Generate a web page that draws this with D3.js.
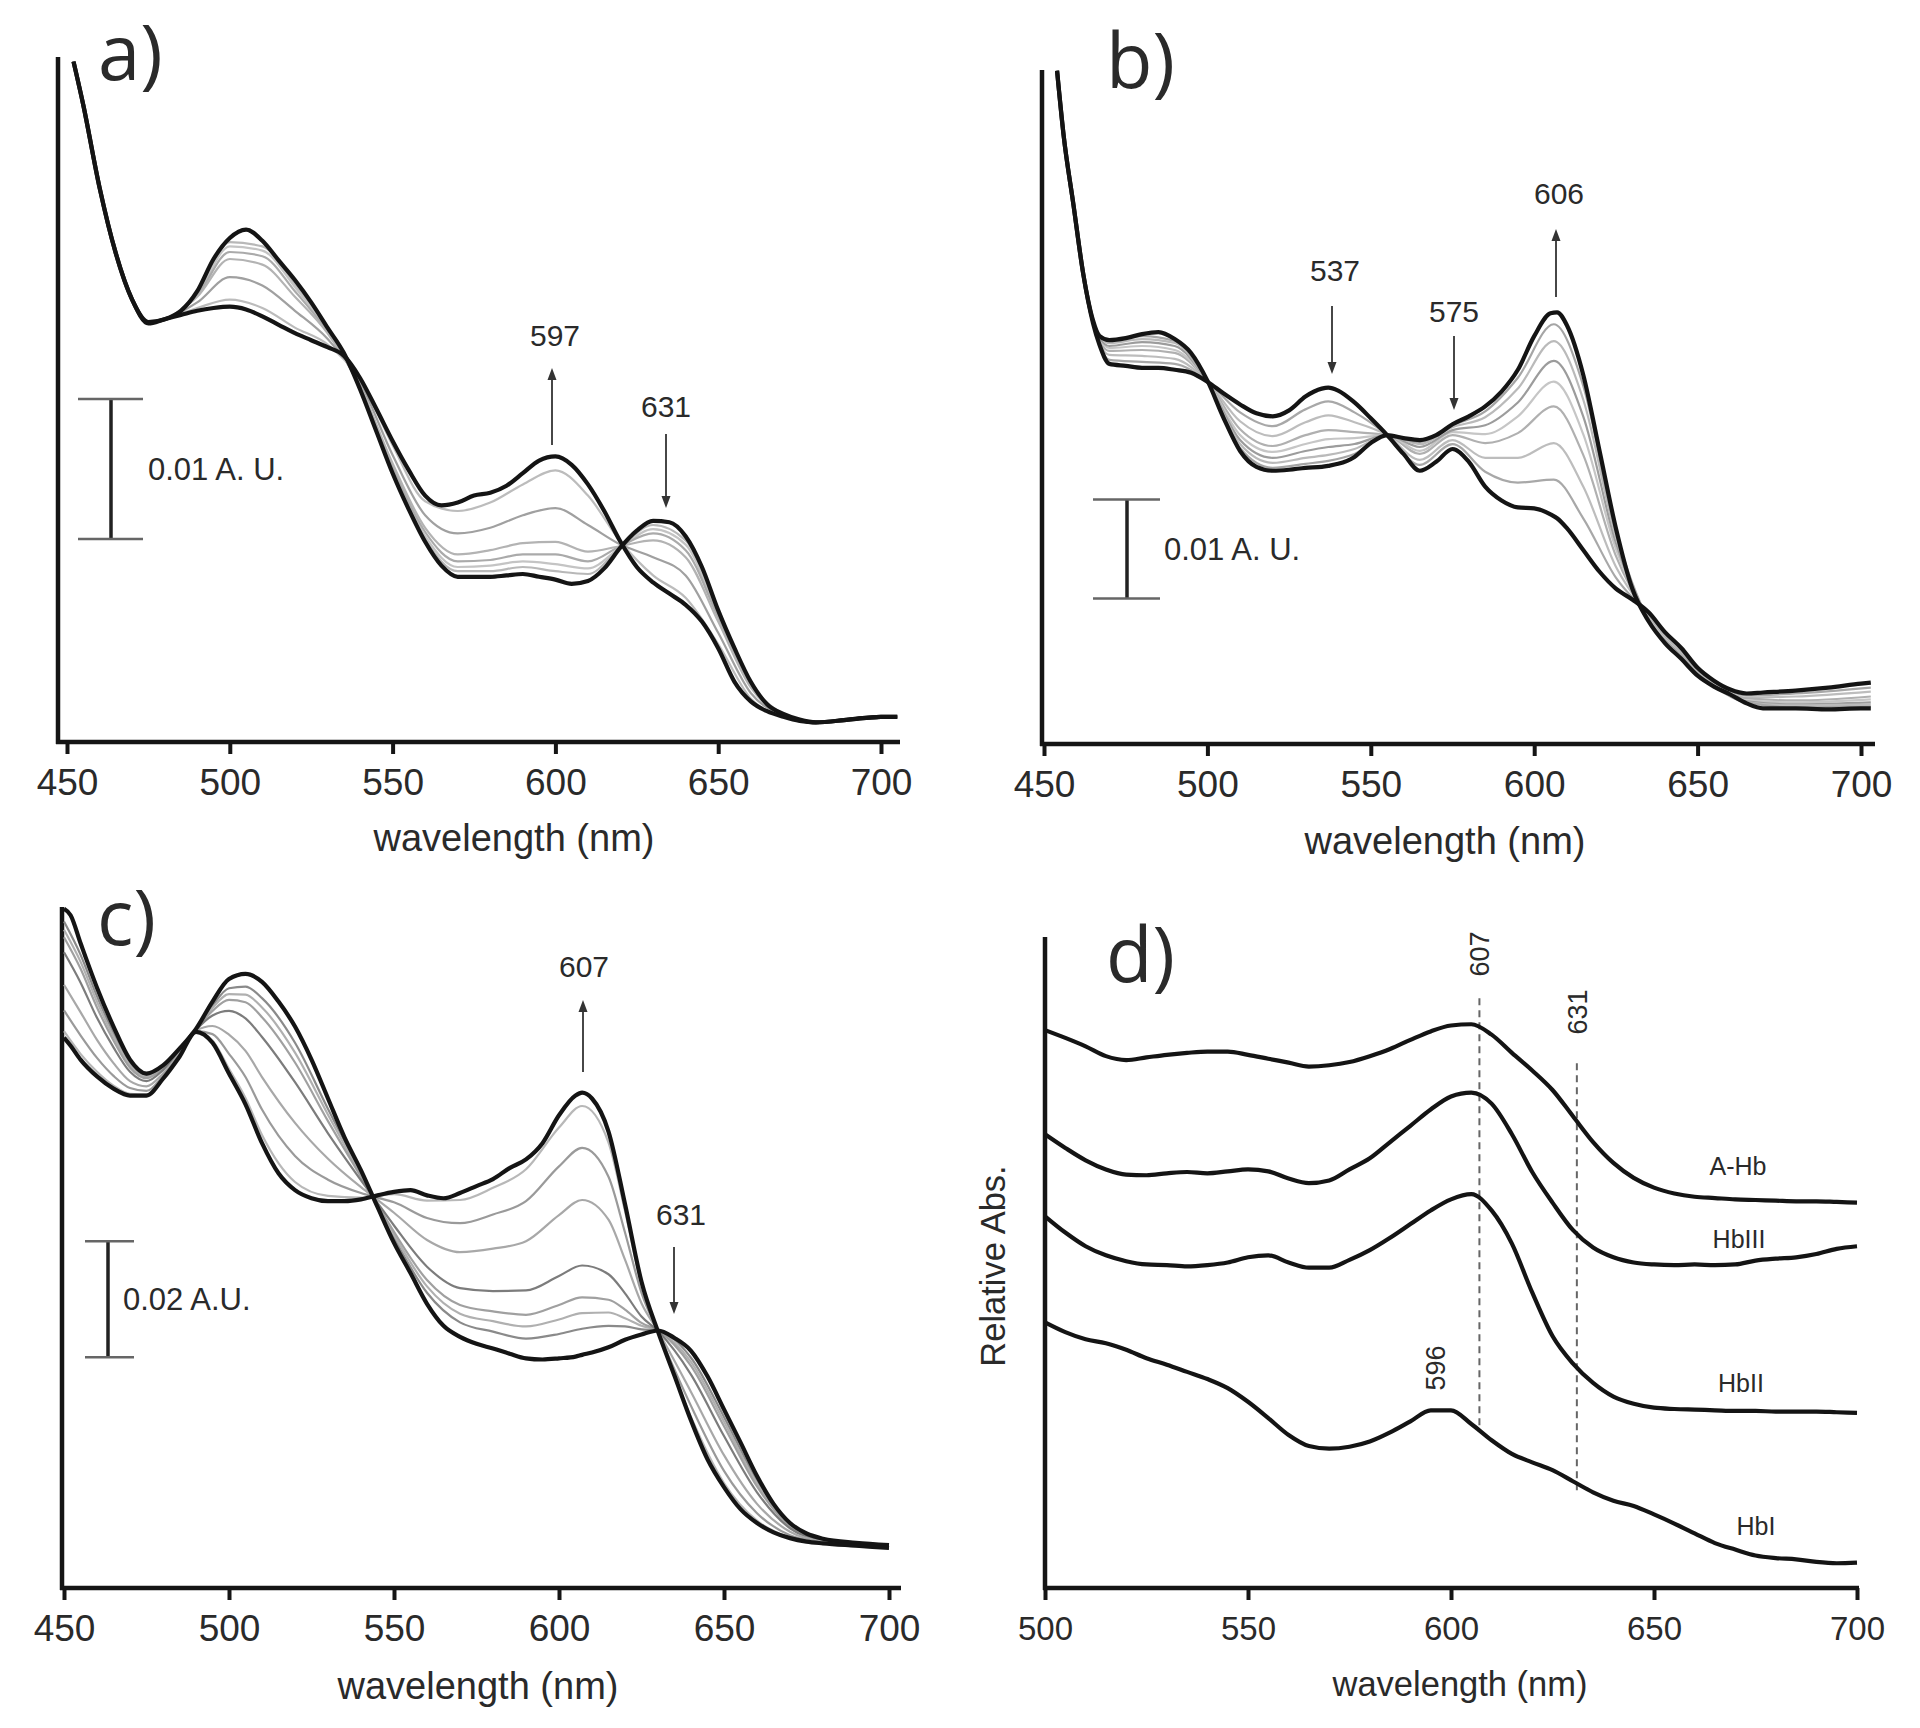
<!DOCTYPE html>
<html><head><meta charset="utf-8">
<script src="https://cdn.jsdelivr.net/npm/d3@7"></script>
<style>
body{margin:0;background:#fff}
svg{display:block}
text{font-family:"Liberation Sans",Arial,Helvetica,sans-serif;fill:#2a2a2a}
</style>
</head><body>
<svg id="chart" width="1920" height="1728"></svg>
<script>
// ---------------- DATA (absorbance in mA = 0.001 A.U.; panel d in relative units) ----------------
const ticksABC = [450, 500, 550, 600, 650, 700];
const ticksD = [500, 550, 600, 650, 700];

// Panel a
const wlA = [452,455,460,465,470,475,480,485,490,495,500,505,510,515,520,525,530,535,540,545,550,555,560,565,570,575,580,585,590,595,600,605,610,615,620,625,630,635,640,645,650,655,660,665,670,675,680,690,700,705];
const aInitial = [48.6,45.5,39.6,34.9,31.6,30.0,30.2,30.8,32.2,34.5,36.0,36.6,35.8,34.4,33.0,31.4,29.6,27.8,25.2,22.2,19.2,16.6,14.3,12.6,11.8,11.8,11.8,11.9,12.0,11.8,11.6,11.3,11.5,12.4,13.9,15.1,15.8,15.7,14.7,12.5,9.4,6.7,4.3,2.7,2.0,1.6,1.4,1.6,1.8,1.8];
const aFinal = [48.6,45.5,39.6,34.9,31.6,29.9,30.2,30.5,30.8,31.0,31.1,30.9,30.4,29.8,29.2,28.7,28.2,27.6,26.0,23.8,21.5,19.4,17.6,16.9,17.1,17.6,17.8,18.3,19.2,20.1,20.4,19.8,18.4,16.5,14.3,12.5,11.4,10.6,9.8,8.6,6.7,4.3,2.9,2.2,1.8,1.5,1.4,1.6,1.8,1.8];
const wlAGray = [452,455,460,465,470,475,480,490,500,510,520,530,540,550,560,570,580,590,600,610,620,630,640,650,660,670,680,690,705];
const aGrays = [
  [48.6,45.5,39.6,34.9,31.6,30.0,30.2,32.1,35.7,35.4,32.7,29.5,25.3,19.4,14.5,12.2,12.2,12.5,12.2,12.0,13.9,15.5,14.4,9.2,4.2,2.0,1.4,1.6,1.8],
  [48.6,45.5,39.6,34.9,31.6,30.0,30.2,32.0,35.4,35.1,32.5,29.4,25.3,19.5,14.7,12.5,12.6,12.9,12.7,12.4,13.9,15.2,14.1,9.0,4.1,2.0,1.4,1.6,1.8],
  [48.6,45.5,39.6,34.9,31.6,30.0,30.2,31.9,35.0,34.7,32.2,29.3,25.4,19.7,15.0,12.9,13.0,13.4,13.4,12.9,14.0,14.9,13.7,8.9,4.0,2.0,1.4,1.6,1.8],
  [48.6,45.5,39.6,34.9,31.6,30.0,30.2,31.8,34.5,34.1,31.8,29.2,25.4,19.9,15.3,13.4,13.7,14.2,14.3,13.6,14.0,14.4,13.2,8.6,3.9,1.9,1.4,1.6,1.8],
  [48.6,45.5,39.6,34.9,31.6,30.0,30.2,31.4,33.2,32.6,30.8,28.8,25.7,20.5,16.2,14.9,15.3,16.2,16.7,15.5,14.1,13.2,11.9,7.8,3.5,1.9,1.4,1.6,1.8],
  [48.6,45.5,39.6,34.9,31.6,29.9,30.2,31.0,31.6,31.0,29.6,28.4,25.9,21.2,17.2,16.5,17.1,18.4,19.4,17.6,14.3,11.9,10.3,7.0,3.1,1.8,1.4,1.6,1.8]
];
const aScaleBar = [14.5, 10];          // base (mA), length (mA) = 0.01 A.U.
const aScaleLabel = "0.01 A. U.";

// Panel b
const wlB = [454,456,459,462,465,467,470,475,480,485,490,495,500,505,510,515,520,525,530,535,537,540,545,550,555,560,565,570,575,580,585,590,595,600,605,607,610,615,620,625,630,635,640,645,650,655,660,665,670,680,690,700,703];
const bInitial = [68.0,61.5,54.5,47.5,42.5,40.3,38.4,38.2,38.0,38.0,37.8,37.5,36.6,35.4,34.3,33.4,33.1,33.7,35.1,35.9,36.0,35.7,34.5,32.9,31.2,29.3,27.6,28.5,29.8,28.5,26.0,24.6,23.9,23.8,23.2,22.8,21.8,19.6,17.4,15.7,14.6,13.3,11.3,9.7,7.7,6.4,5.5,5.1,5.2,5.4,5.7,6.1,6.2];
const bFinal = [68.0,61.5,54.5,47.5,42.8,41.2,40.8,41.0,41.4,41.6,40.9,39.5,36.7,32.9,29.6,28.0,27.6,27.7,27.9,28.0,28.1,28.3,29.0,30.4,31.2,30.9,30.7,31.2,32.3,33.1,34.1,35.6,37.8,41.2,43.5,43.6,42.3,37.3,29.6,21.8,15.7,12.4,10.2,8.6,6.9,5.8,5.0,4.1,3.6,3.6,3.5,3.6,3.6];
const wlBGray = [454,456,459,462,465,470,480,490,500,510,520,530,537,545,555,565,575,585,595,606,615,625,635,645,655,665,680,703];
const bGrays = [
  [68.0,61.5,54.5,47.5,42.6,38.8,38.6,38.4,36.6,33.5,32.1,33.8,34.6,33.5,31.2,28.2,30.3,27.5,26.4,26.7,22.8,16.8,13.1,9.5,6.3,4.9,5.1,5.7],
  [68.0,61.5,54.5,47.5,42.6,39.3,39.2,38.9,36.6,32.6,31.1,32.5,33.2,32.5,31.2,28.7,30.7,28.9,28.9,30.4,26.0,17.9,13.0,9.3,6.2,4.7,4.8,5.3],
  [68.0,61.5,54.5,47.5,42.6,39.7,39.8,39.5,36.6,31.8,30.1,31.2,31.7,31.5,31.2,29.3,31.2,30.4,31.4,34.1,29.2,19.0,12.8,9.1,6.1,4.6,4.4,4.8],
  [68.0,61.5,54.5,47.5,42.6,40.0,40.2,39.8,36.6,31.2,29.5,30.3,30.8,30.9,31.2,29.6,31.5,31.3,33.1,36.6,31.3,19.7,12.7,9.0,6.0,4.4,4.2,4.5],
  [68.0,61.5,54.5,47.5,42.6,40.2,40.6,40.2,36.6,30.7,28.9,29.6,30.0,30.3,31.2,30.0,31.7,32.2,34.5,38.7,33.1,20.3,12.6,8.9,5.9,4.3,4.0,4.2],
  [68.0,61.5,54.5,47.5,42.6,40.5,40.9,40.5,36.6,30.3,28.4,28.9,29.2,29.8,31.2,30.3,32.0,33.0,35.9,40.7,34.8,20.9,12.5,8.8,5.9,4.2,3.9,4.0],
  [68.0,61.5,54.5,47.5,42.6,40.7,41.2,40.7,36.6,29.9,27.9,28.3,28.6,29.3,31.2,30.5,32.2,33.6,37.0,42.4,36.2,21.4,12.5,8.7,5.8,4.2,3.7,3.8]
];
const bScaleBar = [14.7, 10];
const bScaleLabel = "0.01 A. U.";

// Panel c
const wlC = [450,452,455,460,465,470,475,480,485,490,495,500,505,510,515,520,525,530,535,540,545,550,555,560,565,570,575,580,585,590,595,600,605,607,610,615,620,625,630,635,640,645,650,655,660,665,670,675,680,690,700];
const cInitial = [117.1,116.0,111.2,103.5,96.8,91.1,88.7,90.1,93.0,96.4,101.1,105.0,105.9,104.5,101.1,96.8,91.1,84.4,77.7,72.0,65.7,59.5,54.3,49.0,45.2,43.3,42.1,41.3,40.4,39.6,39.4,39.6,39.9,40.2,40.6,41.5,42.8,43.7,44.4,43.1,40.9,36.5,30.8,25.1,19.3,14.5,11.2,9.4,8.5,7.8,7.4];
const cFinal = [94.9,93.5,91.1,88.2,86.1,84.9,84.9,87.8,91.6,95.9,94.0,88.7,83.4,76.7,71.5,68.6,67.2,66.7,66.7,67.0,67.7,68.3,68.6,67.7,67.2,68.1,69.3,70.5,72.4,73.9,76.7,81.5,84.9,85.4,84.4,78.7,66.2,52.8,44.2,36.6,28.9,22.2,17.4,13.6,11.2,9.6,8.6,8.0,7.7,7.3,6.9];
const wlCGray = [450,455,460,465,470,475,480,485,490,495,500,505,510,520,530,540,545,550,560,570,580,590,600,607,615,620,625,630,640,650,660,670,680,700];
const cGrays = [
  [114.9,109.2,102.0,95.7,90.5,88.3,89.9,92.9,96.4,100.4,103.4,103.7,101.7,94.0,82.6,71.5,65.9,60.4,50.9,45.8,44.2,43.0,43.8,44.7,45.2,45.1,44.6,44.4,39.7,29.5,18.5,10.9,8.4,7.4],
  [113.5,108.0,101.1,95.1,90.1,88.1,89.7,92.8,96.3,100.0,102.4,102.3,100.1,92.3,81.6,71.2,66.0,60.9,52.0,47.3,46.0,45.1,46.3,47.4,47.5,46.5,45.2,44.4,39.0,28.7,18.0,10.8,8.4,7.3],
  [112.2,106.8,100.1,94.4,89.7,87.9,89.6,92.7,96.3,99.5,101.4,101.0,98.4,90.6,80.5,70.9,66.1,61.4,53.1,48.8,47.7,47.1,48.8,50.1,49.7,48.0,45.7,44.4,38.3,27.9,17.5,10.6,8.3,7.3],
  [109.6,104.4,98.3,93.2,89.0,87.4,89.3,92.5,96.2,98.7,99.5,98.2,95.0,87.2,78.4,70.3,66.4,62.5,55.4,51.7,51.2,51.3,53.8,55.6,54.1,50.8,46.8,44.3,36.8,26.2,16.5,10.3,8.2,7.2],
  [104.0,99.3,94.5,90.5,87.4,86.5,88.7,92.2,96.1,96.9,95.4,92.6,88.1,80.2,74.0,69.1,66.9,64.7,60.0,57.9,58.5,59.8,64.3,66.9,63.5,56.6,49.1,44.3,33.8,22.9,14.5,9.7,8.0,7.1],
  [99.6,95.3,91.4,88.3,86.2,85.7,88.3,91.9,96.0,95.5,92.1,88.1,82.5,74.5,70.4,68.1,67.3,66.5,63.8,62.9,64.4,66.7,72.7,75.9,70.9,61.3,50.9,44.2,31.4,20.2,12.9,9.1,7.9,7.0],
  [96.0,92.1,89.0,86.6,85.2,85.1,87.9,91.7,95.9,94.4,89.5,84.5,78.1,70.0,67.6,67.3,67.6,67.9,66.8,66.9,69.0,72.2,79.4,83.1,76.8,65.0,52.3,44.2,29.5,18.1,11.6,8.7,7.7,6.9]
];
const cScaleBar = [39.8, 20];
const cScaleLabel = "0.02 A.U.";

// Panel d (relative absorbance)
const wlD = [500,505,510,515,520,525,530,535,540,545,550,555,560,565,570,575,580,585,590,595,600,605,610,615,620,625,630,635,640,645,650,655,660,665,670,675,680,685,690,695,700];
const dAHb = [85.7,84.5,83.2,81.7,81.1,81.5,81.9,82.2,82.4,82.4,81.9,81.3,80.7,80.1,80.3,80.8,81.7,82.8,84.2,85.5,86.4,86.6,85.0,82.2,79.5,76.5,72.5,68.5,65.3,63.0,61.5,60.6,60.1,59.9,59.7,59.6,59.5,59.4,59.4,59.3,59.2];
const dHbIII = [69.7,67.6,65.7,64.3,63.5,63.4,63.7,63.9,63.7,64.0,64.3,64.0,62.9,62.2,62.6,64.3,66.0,68.5,71.0,73.5,75.5,76.1,74.4,69.7,63.9,59.2,55.0,52.3,50.8,50.0,49.7,49.6,49.7,49.6,49.7,50.3,50.6,50.8,51.3,52.1,52.5];
const dHbII = [57.1,54.6,52.5,51.1,50.2,49.7,49.6,49.4,49.6,50.0,50.8,51.1,50.0,49.2,49.2,50.4,51.9,53.8,55.9,58.0,59.7,60.5,58.0,52.9,45.4,38.7,34.5,31.5,29.4,28.3,27.7,27.5,27.4,27.3,27.2,27.2,27.1,27.1,27.1,27.0,26.9];
const dHbI = [40.8,39.3,38.2,37.6,36.6,35.3,34.3,33.2,32.1,30.7,28.6,26.1,23.5,21.8,21.4,21.7,22.5,23.9,25.6,27.3,27.3,25.2,22.7,20.6,19.3,18.1,16.4,14.7,13.4,12.6,11.3,9.9,8.4,6.9,5.9,5.0,4.6,4.4,4.0,3.8,3.9];
const dNames = ["A-Hb", "HbIII", "HbII", "HbI"];
const dMarkers = [607, 631];            // dashed reference lines (nm)
const dMarkerRange = [[25, 91], [15, 81]];
const dPeakLabel = 596;

// ---------------- DRAWING ----------------
const svg = d3.select("#chart");
svg.append("rect").attr("width", 1920).attr("height", 1728).attr("fill", "#fff");

function makePanel(p) {
  const g = svg.append("g");
  const x = d3.scaleLinear().domain(p.xd).range(p.xr);
  const y = d3.scaleLinear().domain([0, 10]).range([p.axisY, p.axisY - 10 * p.pxPerUnit]);
  const line = (wl) => d3.line().x((d, i) => x(wl[i])).y(d => y(d)).curve(d3.curveMonotoneX);

  const ax = g.append("g").attr("transform", `translate(0,${p.axisY})`)
    .call(d3.axisBottom(x).tickValues(p.ticks).tickFormat(d3.format("d"))
      .tickSize(12).tickPadding(p.tickPad));
  ax.select(".domain").remove();
  ax.selectAll(".tick line").attr("stroke", "#151515").attr("stroke-width", 4);
  ax.selectAll(".tick text").attr("font-size", p.tickFont).attr("fill", "#2a2a2a")
    .attr("font-family", '"Liberation Sans",Arial,sans-serif');
  g.append("line").attr("x1", p.axisX).attr("x2", p.axisX).attr("y1", p.topY).attr("y2", p.axisY + 2)
    .attr("stroke", "#151515").attr("stroke-width", 4.5);
  g.append("line").attr("x1", p.axisX - 2).attr("x2", p.xEnd).attr("y1", p.axisY).attr("y2", p.axisY)
    .attr("stroke", "#151515").attr("stroke-width", 4.5);
  g.append("text").attr("x", p.titleX).attr("y", p.titleY).attr("text-anchor", "middle")
    .attr("font-size", p.titleFont).text("wavelength (nm)");
  g.append("text").attr("x", p.labX).attr("y", p.labY).attr("font-size", 76)
    .style("font-family", '"Open Sans",Lato,sans-serif').attr("fill", "#111").text(p.label);
  return { g, x, y, line };
}

function drawSpectra(P, wl, initial, final, wlGray, grays, grayColors) {
  grays.forEach((arr, k) => {
    P.g.append("path").datum(arr).attr("d", P.line(wlGray)).attr("fill", "none")
      .attr("stroke", grayColors[k % grayColors.length]).attr("stroke-width", 2.2);
  });
  [initial, final].forEach(arr => {
    P.g.append("path").datum(arr).attr("d", P.line(wl)).attr("fill", "none")
      .attr("stroke", "#141414").attr("stroke-width", 4.2).attr("stroke-linejoin", "round");
  });
}

function scaleBar(P, xLine, capL, capR, bar, label, textX, font) {
  const y0 = P.y(bar[0]), y1 = P.y(bar[0] + bar[1]);
  P.g.append("line").attr("x1", xLine).attr("x2", xLine).attr("y1", y0).attr("y2", y1)
    .attr("stroke", "#222").attr("stroke-width", 3.5);
  [y0, y1].forEach(yy => P.g.append("line").attr("x1", capL).attr("x2", capR).attr("y1", yy).attr("y2", yy)
    .attr("stroke", "#666").attr("stroke-width", 2.5));
  P.g.append("text").attr("x", textX).attr("y", (y0 + y1) / 2 + font * 0.36).attr("font-size", font)
    .attr("fill", "#333").text(label);
}

function arrow(P, xPos, yFrom, yTo, label, labelX, labelY) {
  const dir = yTo < yFrom ? -1 : 1;
  P.g.append("line").attr("x1", xPos).attr("x2", xPos).attr("y1", yFrom).attr("y2", yTo - dir * 8)
    .attr("stroke", "#333").attr("stroke-width", 1.8);
  P.g.append("path").attr("d", `M${xPos},${yTo} L${xPos - 4.5},${yTo - dir * 12} L${xPos + 4.5},${yTo - dir * 12} Z`)
    .attr("fill", "#333");
  P.g.append("text").attr("x", labelX).attr("y", labelY).attr("text-anchor", "middle")
    .attr("font-size", 30).attr("fill", "#333").text(label);
}

// ---- Panel a
const PA = makePanel({ xd: [450, 700], xr: [67, 881], axisX: 58, topY: 57, axisY: 742, xEnd: 900,
  pxPerUnit: 14, ticks: ticksABC, tickPad: 15, tickFont: 37, titleX: 514, titleY: 851, titleFont: 38,
  label: "a)", labX: 98, labY: 80 });
drawSpectra(PA, wlA, aInitial, aFinal, wlAGray, aGrays, ["#b8b8b8", "#c4c4c4", "#aaaaaa", "#b3b3b3", "#a0a0a0", "#bcbcbc"]);
scaleBar(PA, 111, 78, 143, aScaleBar, aScaleLabel, 148, 31);
arrow(PA, 552, 445, 368, "597", 555, 346);
arrow(PA, 666, 434, 508, "631", 666, 417);

// ---- Panel b
const PB = makePanel({ xd: [450, 700], xr: [1044, 1861], axisX: 1042, topY: 70, axisY: 744, xEnd: 1875,
  pxPerUnit: 9.9, ticks: ticksABC, tickPad: 15, tickFont: 37, titleX: 1445, titleY: 854, titleFont: 38,
  label: "b)", labX: 1106, labY: 88 });
drawSpectra(PB, wlB, bInitial, bFinal, wlBGray, bGrays, ["#a8a8a8", "#bdbdbd", "#b0b0b0", "#c6c6c6", "#9c9c9c", "#bababa", "#a5a5a5"]);
scaleBar(PB, 1127, 1093, 1160, bScaleBar, bScaleLabel, 1164, 31);
arrow(PB, 1556, 297, 229, "606", 1559, 204);
arrow(PB, 1332, 306, 374, "537", 1335, 281);
arrow(PB, 1454, 336, 410, "575", 1454, 322);

// ---- Panel c
const PC = makePanel({ xd: [450, 700], xr: [64, 889], axisX: 62, topY: 907, axisY: 1588, xEnd: 901,
  pxPerUnit: 5.8, ticks: ticksABC, tickPad: 15, tickFont: 37, titleX: 478, titleY: 1699, titleFont: 38,
  label: "c)", labX: 97, labY: 945 });
drawSpectra(PC, wlC, cInitial, cFinal, wlCGray, cGrays, ["#8a8a8a", "#b0b0b0", "#a0a0a0", "#7c7c7c", "#a8a8a8", "#9a9a9a", "#b8b8b8"]);
scaleBar(PC, 108, 85, 134, cScaleBar, cScaleLabel, 123, 31);
arrow(PC, 583, 1072, 1000, "607", 584, 977);
arrow(PC, 674, 1247, 1314, "631", 681, 1225);

// ---- Panel d
const PD = makePanel({ xd: [500, 700], xr: [1045, 1857], axisX: 1045, topY: 937, axisY: 1588, xEnd: 1859,
  pxPerUnit: 6.51, ticks: ticksD, tickPad: 17, tickFont: 33, titleX: 1460, titleY: 1696, titleFont: 34.5,
  label: "d)", labX: 1106, labY: 982 });
PD.g.append("text").attr("transform", "translate(1005,1266) rotate(-90)").attr("text-anchor", "middle")
  .attr("font-size", 34.5).text("Relative Abs.");
dMarkers.forEach((m, k) => {
  PD.g.append("line").attr("x1", PD.x(m)).attr("x2", PD.x(m))
    .attr("y1", PD.y(dMarkerRange[k][0])).attr("y2", PD.y(dMarkerRange[k][1]))
    .attr("stroke", "#666").attr("stroke-width", 2).attr("stroke-dasharray", "7,5");
});
[dAHb, dHbIII, dHbII, dHbI].forEach(arr => {
  PD.g.append("path").datum(arr).attr("d", PD.line(wlD)).attr("fill", "none")
    .attr("stroke", "#141414").attr("stroke-width", 4.2).attr("stroke-linejoin", "round");
});
[[607, 954], [631, 1012], [dPeakLabel, 1368]].forEach(([m, yc]) => {
  PD.g.append("text").attr("transform", `translate(${PD.x(m) + 10},${yc}) rotate(-90)`)
    .attr("text-anchor", "middle").attr("font-size", 27).attr("fill", "#444").text(m);
});
const dLabelPos = [[1738, 1175], [1739, 1248], [1741, 1392], [1756, 1535]];
dNames.forEach((n, k) => {
  PD.g.append("text").attr("x", dLabelPos[k][0]).attr("y", dLabelPos[k][1]).attr("text-anchor", "middle")
    .attr("font-size", 25).attr("fill", "#222").text(n);
});
</script>
</body></html>
